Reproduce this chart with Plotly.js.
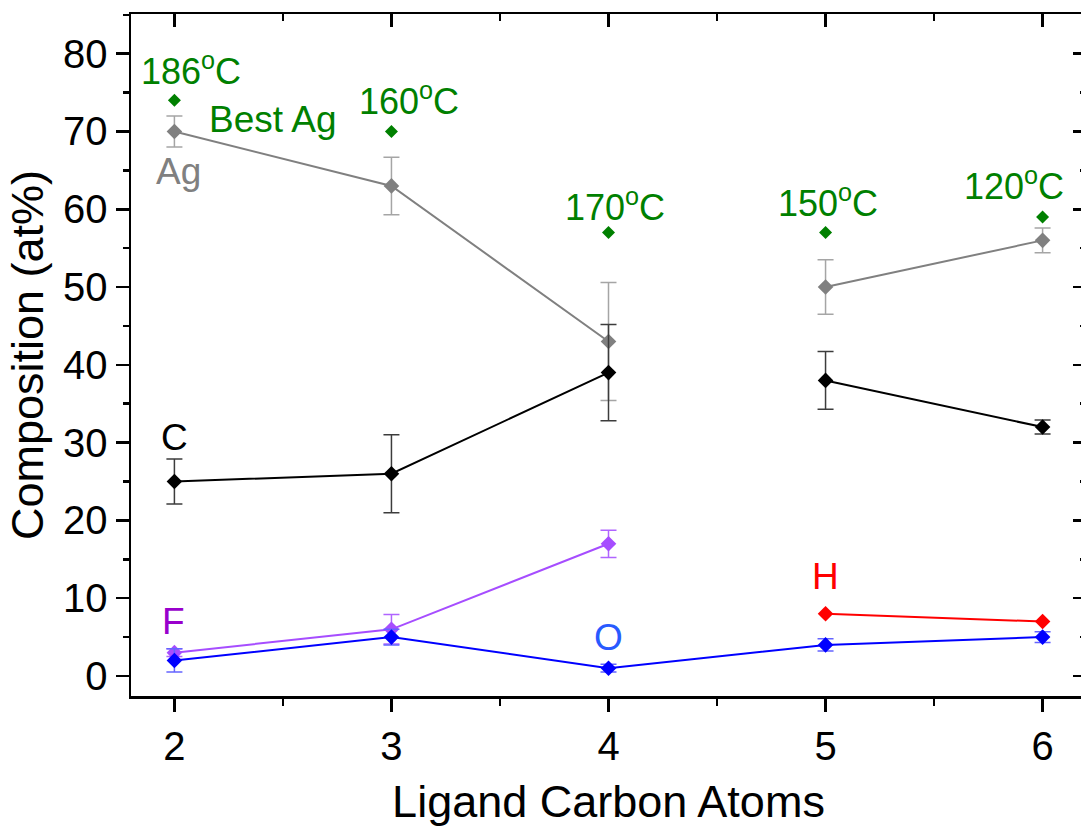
<!DOCTYPE html>
<html>
<head>
<meta charset="utf-8">
<script src="https://cdn.plot.ly/plotly-3.0.1.min.js"></script>
<style>
  html, body { margin: 0; padding: 0; overflow: hidden; background: #fff; }
  #chart { width: 1090px; height: 827px; }
</style>
</head>
<body>
<div id="chart"></div>
<script>
// Ligand carbon count on the x axis
const carbons = [2, 3, 4, 5, 6];

// Composition (at%) with standard deviations
const agValues = [70, 63, 43, 50, 56];
const agErrors = [2.0, 3.7, 7.6, 3.5, 1.6];
const cValues  = [25, 26, 39, 38, 32];
const cErrors  = [2.9, 5.0, 6.2, 3.7, 0.9];
const fCarbons = [2, 3, 4];
const fValues  = [3, 6, 17];
const fErrors  = [0.5, 1.9, 1.75];
const oValues  = [2, 5, 1, 4, 5];
const oErrors  = [1.5, 1.0, 0.5, 0.8, 0.7];
const hCarbons = [5, 6];
const hValues  = [8, 7];

// Sintering temperature markers and their labels
const tempValues = [74, 70, 57, 57, 59];
const tempLabels = ['186', '160', '170', '150', '120'];

// Ag and C are measured in two separate runs (2-4 and 5-6)
const segments = [[0, 3], [3, 5]];

const FONT = '"Liberation Sans", Arial, sans-serif';
const GREEN = 'rgb(0,128,0)';

function series(xs, ys, errs, color, errColor) {
  const t = {
    type: 'scatter', mode: 'lines+markers',
    x: xs, y: ys,
    line: { color: color, width: 2 },
    marker: { symbol: 'diamond', size: 12, color: color },
    showlegend: false, hoverinfo: 'x+y'
  };
  if (errs) {
    t.error_y = { type: 'data', array: errs, visible: true,
                  color: errColor, thickness: 1.5, width: 8 };
  }
  return t;
}

const traces = [];
segments.forEach(([a, b]) => {
  traces.push(series(carbons.slice(a, b), agValues.slice(a, b), agErrors.slice(a, b),
                     'rgb(128,128,128)', 'rgb(165,165,165)'));
});
segments.forEach(([a, b]) => {
  traces.push(series(carbons.slice(a, b), cValues.slice(a, b), cErrors.slice(a, b),
                     'rgb(0,0,0)', 'rgb(60,60,60)'));
});
traces.push(series(fCarbons, fValues, fErrors, 'rgb(166,77,255)', 'rgb(176,100,255)'));
traces.push(series(carbons, oValues, oErrors, 'rgb(0,0,255)', 'rgb(100,100,255)'));
traces.push(series(hCarbons, hValues, null, 'rgb(255,0,0)', null));

// temperature markers sit on the mirrored top/right axes (same ranges)
traces.push({
  type: 'scatter', mode: 'markers',
  x: carbons, y: tempValues, xaxis: 'x2', yaxis: 'y2',
  marker: { symbol: 'diamond', size: 10, color: GREEN },
  showlegend: false, hoverinfo: 'x+y'
});

const XR = [1.8, 6.2];
const YR = [-2.57, 85.1];

const tempPos = [[2.075, 78.0], [3.08, 74.2], [4.03, 60.6], [5.01, 61.1], [5.87, 63.3]];
const annotations = tempLabels.map((t, i) => ({
  text: t + '<sup>o</sup>C', x: tempPos[i][0], y: tempPos[i][1],
  xref: 'x', yref: 'y', showarrow: false,
  font: { family: FONT, size: 36, color: GREEN }
}));
const labels = [
  ['Best Ag', 2.455, 71.5, GREEN],
  ['Ag', 2.017, 64.9, 'rgb(128,128,128)'],
  ['C', 2.0, 30.7, 'rgb(0,0,0)'],
  ['F', 1.995, 7.0, 'rgb(153,0,204)'],
  ['O', 4.0, 5.0, 'rgb(40,90,255)'],
  ['H', 5.0, 12.8, 'rgb(255,0,0)']
];
labels.forEach(([t, x, y, c]) => annotations.push({
  text: t, x: x, y: y, xref: 'x', yref: 'y', showarrow: false,
  font: { family: FONT, size: 37, color: c }
}));

const axisCommon = {
  showline: true, linecolor: '#000', linewidth: 2.5,
  showgrid: false, zeroline: false,
  tickcolor: '#000', tickwidth: 2.5, ticklen: 13
};

const layout = {
  width: 1090, height: 827,
  margin: { l: 131, r: 4, t: 14, b: 131 },
  paper_bgcolor: '#fff', plot_bgcolor: '#fff',
  font: { family: FONT, color: '#000' },
  showlegend: false,
  xaxis: Object.assign({}, axisCommon, {
    range: XR, ticks: 'outside', dtick: 1, tick0: 2,
    tickfont: { family: FONT, size: 40, color: '#000' },
    minor: { dtick: 0.5, tick0: 2, ticks: 'outside', ticklen: 7, tickwidth: 2.5, tickcolor: '#000' },
    title: { text: 'Ligand Carbon Atoms', font: { family: FONT, size: 45, color: '#000' }, standoff: 28 }
  }),
  yaxis: Object.assign({}, axisCommon, {
    range: YR, ticks: 'outside', dtick: 10, tick0: 0,
    tickfont: { family: FONT, size: 40, color: '#000' },
    minor: { dtick: 5, tick0: 0, ticks: 'outside', ticklen: 6, tickwidth: 2.5, tickcolor: '#000' },
    title: { text: 'Composition (at%)', font: { family: FONT, size: 45, color: '#000' }, standoff: 6 }
  }),
  xaxis2: Object.assign({}, axisCommon, {
    range: XR, overlaying: 'x', side: 'top', ticks: 'inside', dtick: 1, tick0: 2,
    showticklabels: false,
    minor: { dtick: 0.5, tick0: 2, ticks: 'inside', ticklen: 7, tickwidth: 2.5, tickcolor: '#000' }
  }),
  yaxis2: Object.assign({}, axisCommon, {
    range: YR, overlaying: 'y', side: 'right', ticks: 'inside', dtick: 10, tick0: 0,
    showticklabels: false,
    minor: { dtick: 5, tick0: 0, ticks: 'inside', ticklen: 6, tickwidth: 2.5, tickcolor: '#000' }
  }),
  annotations: annotations
};

Plotly.newPlot('chart', traces, layout, { displayModeBar: false, staticPlot: true });
</script>
</body>
</html>
